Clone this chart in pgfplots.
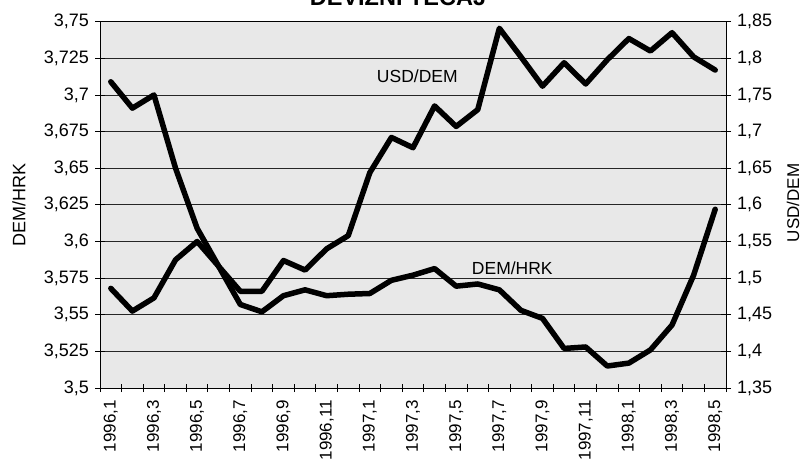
\documentclass[border=0pt]{standalone}
\usepackage{fontspec}
\setmainfont{Liberation Sans}
\usepackage{pgfplots}
\pgfplotsset{compat=1.18}
\usepackage{pgfplotstable}

\pgfplotstableread{
k dem usd
0 3.709 1.486
1 3.691 1.455
2 3.700 1.473
3 3.650 1.525
4 3.609 1.550
5 3.583 1.516
6 3.557 1.482
7 3.552 1.482
8 3.563 1.524
9 3.567 1.511
10 3.563 1.540
11 3.564 1.558
12 3.5645 1.644
13 3.5735 1.692
14 3.577 1.678
15 3.5815 1.735
16 3.5695 1.707
17 3.571 1.730
18 3.567 1.841
19 3.553 1.802
20 3.5475 1.762
21 3.527 1.794
22 3.528 1.765
23 3.515 1.798
24 3.517 1.827
25 3.526 1.810
26 3.543 1.835
27 3.577 1.802
28 3.622 1.784
}\datatable

\begin{document}
\begin{tikzpicture}[x=1pt,y=1pt]
\path[use as bounding box] (0,0) rectangle (805,469);
\pgfplotsset{
  common/.style={
    at={(100pt,81pt)}, anchor=south west,
    scale only axis, width=626pt, height=366.3pt,
    xmin=-0.5, xmax=28.5,
    tick align=center,
    axis line style={black, line width=1pt},
    every tick/.style={black, line width=0.9pt},
    major tick length=10pt,
    minor tick length=8pt,
  }
}
\begin{axis}[common,
  ymin=3.5, ymax=3.75,
  ytick={3.5,3.525,3.55,3.575,3.6,3.625,3.65,3.675,3.7,3.725,3.75},
  yticklabels={{3,5},{3,525},{3,55},{3,575},{3,6},{3,625},{3,65},{3,675},{3,7},{3,725},{3,75}},
  yticklabel style={font=\fontsize{18}{20}\selectfont, anchor=east, inner sep=0pt},
  yticklabel shift=6pt,
  xtick={0,2,...,28},
  xticklabels={{1996,1},{1996,3},{1996,5},{1996,7},{1996,9},{1996,11},{1997,1},{1997,3},{1997,5},{1997,7},{1997,9},{1997,11},{1998,1},{1998,3},{1998,5}},
  xtick style={/pgfplots/major tick length=0pt},
  minor xtick={-0.5,0.5,...,28.5},
  xticklabel style={font=\fontsize{17}{19}\selectfont, rotate=90, anchor=east, inner sep=0pt},
  xticklabel shift=7pt,
  axis y line*=left,
  axis x line*=bottom,
  ymajorgrids,
  major grid style={black!85, line width=0.9pt},
  axis background/.style={fill=black!9},
  clip=false,
]
\addplot[black, line width=5.5pt, line join=round, line cap=round] table[x=k, y=dem] {\datatable};
\node[font=\fontsize{17.5}{19}\selectfont] at (axis cs:14.2,3.713) {USD/DEM};
\node[font=\fontsize{17.5}{19}\selectfont] at (axis cs:18.6,3.582) {DEM/HRK};
\end{axis}
\begin{axis}[common,
  ymin=1.35, ymax=1.85,
  ytick={1.35,1.4,1.45,1.5,1.55,1.6,1.65,1.7,1.75,1.8,1.85},
  yticklabels={{1,35},{1,4},{1,45},{1,5},{1,55},{1,6},{1,65},{1,7},{1,75},{1,8},{1,85}},
  yticklabel style={font=\fontsize{18}{20}\selectfont, anchor=west, inner sep=0pt},
  yticklabel shift=6pt,
  axis y line*=right,
  axis x line*=top,
  xtick=\empty,
]
\addplot[black, line width=5.5pt, line join=round, line cap=round] table[x=k, y=usd] {\datatable};
\end{axis}
\node[rotate=90, font=\fontsize{18}{20}\selectfont] at (19,264) {DEM/HRK};
\node[rotate=90, font=\fontsize{17}{19}\selectfont] at (793,266) {USD/DEM};
\node[anchor=base, font=\bfseries\fontsize{23.5}{26}\selectfont] at (398,463) {DEVIZNI TEČAJ};
\end{tikzpicture}
\end{document}
